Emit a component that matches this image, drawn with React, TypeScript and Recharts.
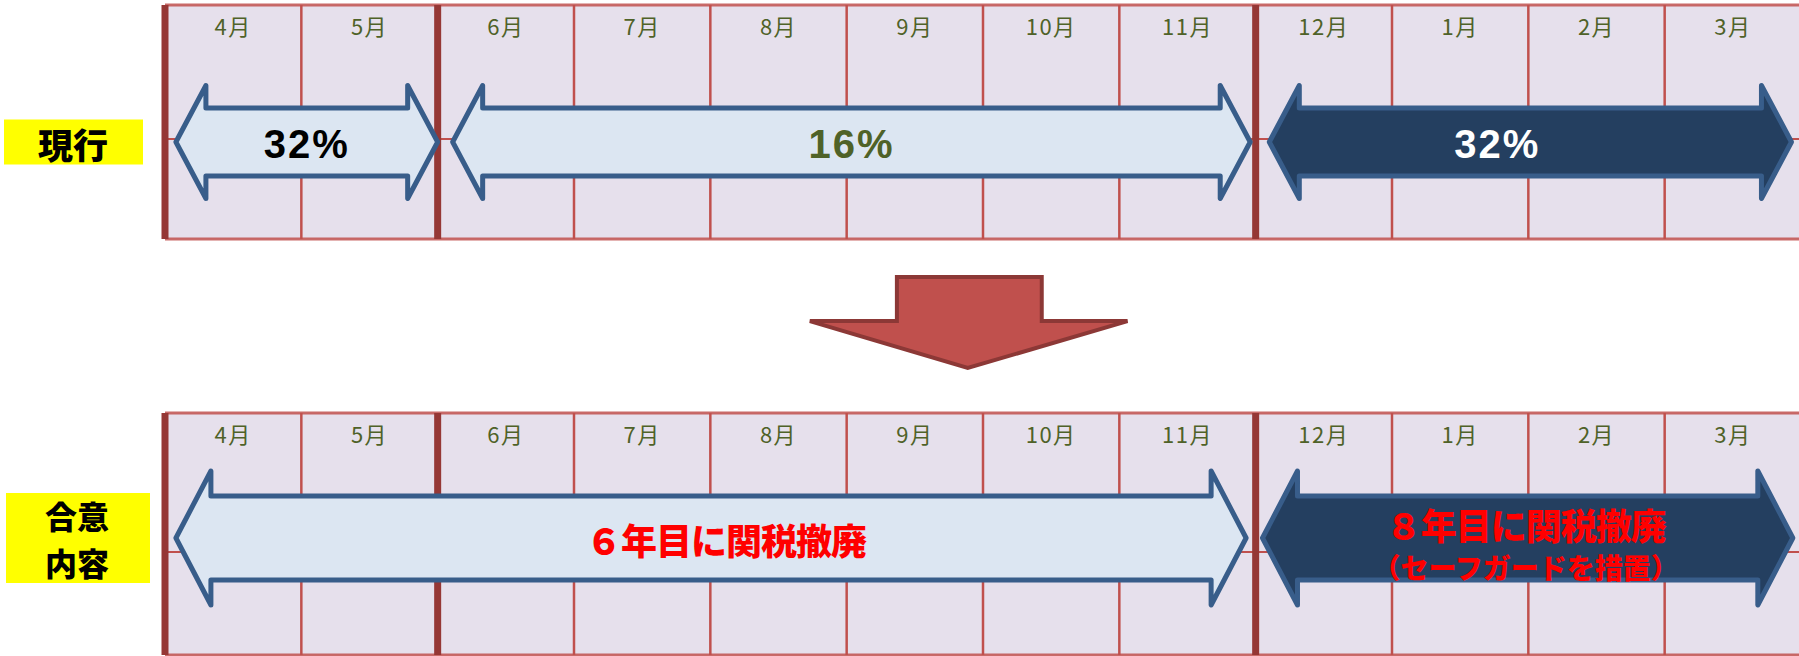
import React from 'react';
import { ComposedChart, XAxis, YAxis, ReferenceArea, ReferenceLine } from 'recharts';

// ---- data ----
const MONTH_LABELS = ['4月', '5月', '6月', '7月', '8月', '9月', '10月', '11月', '12月', '1月', '2月', '3月'];
const PERIOD_BOUNDARIES = [0, 2, 8];
const ROW_LABELS = ['現行', '合意内容'];

const CURRENT_LABELS = ['32%', '16%', '32%'];
const CURRENT_START = [0.08, 2.11, 8.1];
const CURRENT_END = [2.0, 7.96, 11.93];
const CURRENT_DARK = [false, false, true];

const AGREED_LABELS = ['６年目に関税撤廃', '８年目に関税撤廃'];
const AGREED_NOTES = ['', '（セーフガードを措置）'];
const AGREED_START = [0.08, 8.05];
const AGREED_END = [7.93, 11.94];
const AGREED_DARK = [false, true];

// ---- layout / style ----
const W = 1801;
const H = 656;
const AXIS_W = 165;
const PANELS = [
  { top: 5, bottom: 239, mid: 139, center: 142, headHalf: 56.5, shaftHalf: 34, headLen: 30, labelDy: 20 },
  { top: 413, bottom: 655, mid: 552, center: 538, headHalf: 67, shaftHalf: 42, headLen: 35, labelDy: 20 },
];
const TRANSITION = { x1: 4.73, x2: 7.06, y1: 277, y2: 368 };

const LIGHT_FILL = '#DCE6F2';
const DARK_FILL = '#243F60';
const ARROW_STROKE = '#385D8A';
const GRID_BG = '#E6E0EC';
const THIN_RED = '#C0504D';
const THICK_RED = '#953735';
const MONTH_COLOR = '#4F6228';
const JP = '"Noto Sans CJK JP", "Noto Sans", sans-serif';
const LAT = '"Liberation Sans", Arial, sans-serif';

type Txt = { text: string; dy: number; size: number; color: string; font: string; spacing?: number; weight?: number };

const makeArrow = (panel: typeof PANELS[0], dark: boolean, texts: Txt[], dx: number) => (props: any) => {
  const { x, y, width, height } = props;
  if (x == null || width == null) return <g />;
  const cy = y + height / 2;
  const hl = panel.headLen;
  const sh = panel.shaftHalf;
  const pts = [
    [x, cy], [x + hl, y], [x + hl, cy - sh], [x + width - hl, cy - sh], [x + width - hl, y],
    [x + width, cy], [x + width - hl, y + height], [x + width - hl, cy + sh], [x + hl, cy + sh], [x + hl, y + height],
  ].map((p) => p.join(',')).join(' ');
  return (
    <g>
      <polygon points={pts} fill={dark ? DARK_FILL : LIGHT_FILL} stroke={ARROW_STROKE} strokeWidth={5} strokeLinejoin="round" />
      {texts.map((t, i) => (
        <text key={i} x={x + width / 2 + dx} y={cy + t.dy} textAnchor="middle" dominantBaseline="central"
          fontFamily={t.font} fontWeight={t.weight || 700} fontSize={t.size} fill={t.color} letterSpacing={t.spacing || 0}>
          {t.text}
        </text>
      ))}
    </g>
  );
};

const makeCell = (label: string, labelDy: number) => (props: any) => {
  const { x, y, width, height } = props;
  if (x == null || width == null) return <g />;
  return (
    <g>
      <rect x={x} y={y} width={width} height={height} fill={GRID_BG} />
      <text x={x + width / 2} y={y + labelDy} textAnchor="middle" dominantBaseline="central"
        fontFamily={JP} fontSize={22} fill={MONTH_COLOR} letterSpacing={1.5}>
        {label}
      </text>
    </g>
  );
};

const transitionShape = (props: any) => {
  const { x, y, width, height } = props;
  if (x == null || width == null) return <g />;
  const s0 = x + width * 0.274;
  const s1 = x + width * 0.73;
  const hy = y + height * 0.484;
  const tx = x + width * 0.497;
  const pts = [[s0, y], [s1, y], [s1, hy], [x + width, hy], [tx, y + height], [x, hy], [s0, hy]]
    .map((p) => p.join(',')).join(' ');
  return <polygon points={pts} fill="#C0504D" stroke="#8C3836" strokeWidth={4} />;
};

const RowTick = (props: any) => {
  const { x, y, index } = props;
  const label = ROW_LABELS[index] || '';
  const right = x;
  if (index === 0) {
    return (
      <g>
        <rect x={right - 161} y={y - 22.5} width={139} height={45} fill="#FFFF00" />
        <text x={right - 92} y={y + 1} textAnchor="middle" dominantBaseline="central" fontFamily={JP}
          fontWeight={900} fontSize={35} fill="#000">{label}</text>
      </g>
    );
  }
  return (
    <g>
      <rect x={right - 159} y={y - 45} width={144} height={90} fill="#FFFF00" />
      <text x={right - 88} y={y - 23.5} textAnchor="middle" dominantBaseline="central" fontFamily={JP}
        fontWeight={900} fontSize={32} fill="#000">{label.slice(0, 2)}</text>
      <text x={right - 88} y={y + 23.5} textAnchor="middle" dominantBaseline="central" fontFamily={JP}
        fontWeight={900} fontSize={32} fill="#000">{label.slice(2)}</text>
    </g>
  );
};

export default function App() {
  const boundaries = MONTH_LABELS.map((_, i) => i).concat([MONTH_LABELS.length]);
  let z = 10;
  const elems: React.ReactNode[] = [];

  PANELS.forEach((p, pi) => {
    MONTH_LABELS.forEach((m, mi) => {
      elems.push(
        <ReferenceArea key={`cell${pi}-${mi}`} x1={mi} x2={mi + 1} y1={p.top} y2={p.bottom}
          ifOverflow="visible" zIndex={z++} shape={makeCell(m, p.labelDy)} />
      );
    });
    elems.push(
      <ReferenceLine key={`mid${pi}`} segment={[{ x: 0, y: p.mid }, { x: 12, y: p.mid }]} stroke={THIN_RED}
        strokeWidth={2} ifOverflow="visible" zIndex={z++} />
    );
    elems.push(
      <ReferenceLine key={`top${pi}`} segment={[{ x: 0, y: p.top }, { x: 12, y: p.top }]} stroke={THIN_RED}
        strokeOpacity={0.85} strokeWidth={3} ifOverflow="visible" zIndex={z++} />
    );
    elems.push(
      <ReferenceLine key={`bot${pi}`} segment={[{ x: 0, y: p.bottom }, { x: 12, y: p.bottom }]} stroke={THIN_RED}
        strokeOpacity={0.85} strokeWidth={3} ifOverflow="visible" zIndex={z++} />
    );
    boundaries.forEach((b) => {
      const thick = PERIOD_BOUNDARIES.includes(b);
      elems.push(
        <ReferenceLine key={`v${pi}-${b}`} segment={[{ x: b, y: p.top }, { x: b, y: p.bottom }]}
          stroke={thick ? THICK_RED : THIN_RED} strokeWidth={thick ? 7 : 2.5} ifOverflow="visible" zIndex={z++} />
      );
    });
  });

  const p0 = PANELS[0];
  CURRENT_LABELS.forEach((lab, i) => {
    const color = i === 0 ? '#000000' : CURRENT_DARK[i] ? '#FFFFFF' : MONTH_COLOR;
    elems.push(
      <ReferenceArea key={`cur${i}`} x1={CURRENT_START[i]} x2={CURRENT_END[i]} y1={p0.center - p0.headHalf}
        y2={p0.center + p0.headHalf} ifOverflow="visible" zIndex={z++}
        shape={makeArrow(p0, CURRENT_DARK[i], [{ text: lab, dy: 2, size: 40, color, font: LAT, spacing: 2 }], i === 2 ? -33 : 0)} />
    );
  });

  const p1 = PANELS[1];
  AGREED_LABELS.forEach((lab, i) => {
    const texts: Txt[] = AGREED_NOTES[i]
      ? [
          { text: lab, dy: -14, size: 36, color: '#FF0000', font: JP, spacing: -1, weight: 900 },
          { text: AGREED_NOTES[i], dy: 29, size: 28, color: '#FF0000', font: JP, weight: 900 },
        ]
      : [{ text: lab, dy: 1, size: 36, color: '#FF0000', font: JP, spacing: -1, weight: 900 }];
    elems.push(
      <ReferenceArea key={`agr${i}`} x1={AGREED_START[i]} x2={AGREED_END[i]} y1={p1.center - p1.headHalf}
        y2={p1.center + p1.headHalf} ifOverflow="visible" zIndex={z++}
        shape={makeArrow(p1, AGREED_DARK[i], texts, i === 0 ? 15 : -2)} />
    );
  });

  elems.push(
    <ReferenceArea key="trans" x1={TRANSITION.x1} x2={TRANSITION.x2} y1={TRANSITION.y1} y2={TRANSITION.y2}
      ifOverflow="visible" zIndex={z++} shape={transitionShape} />
  );

  return (
    <div style={{ position: 'absolute', left: 0, top: 0, width: 1799, height: 656, overflow: 'hidden', background: '#fff' }}>
      <ComposedChart width={W} height={H} data={[]} margin={{ top: 0, right: 0, bottom: 0, left: 0 }}>
        <XAxis type="number" dataKey="x" domain={[0, 12]} hide allowDataOverflow />
        <YAxis type="number" domain={[0, H]} reversed width={AXIS_W} ticks={PANELS.map((p) => p.center)}
          interval={0} axisLine={false} tickLine={false} tickSize={0} tickMargin={0} tick={<RowTick />} allowDataOverflow />
        {elems}
      </ComposedChart>
    </div>
  );
}
